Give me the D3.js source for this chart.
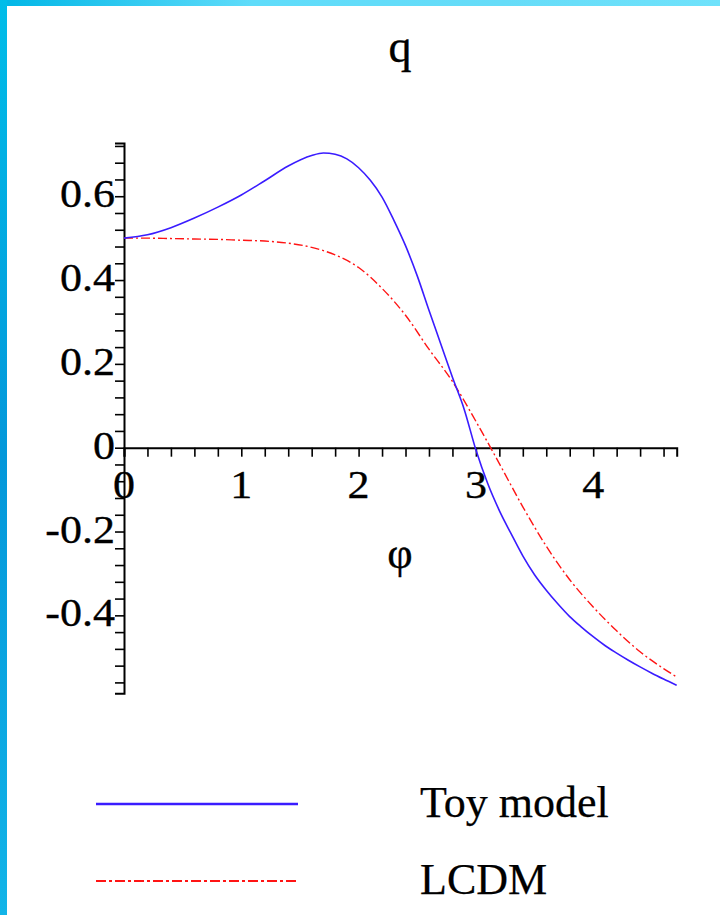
<!DOCTYPE html>
<html>
<head>
<meta charset="utf-8">
<script src="https://cdn.jsdelivr.net/npm/d3@7"></script>
<style>
  html, body { margin: 0; padding: 0; background: #fff; }
  svg { display: block; }
  text { font-family: "Liberation Serif", "Times New Roman", serif; fill: #000; }
</style>
</head>
<body>
<svg id="chart" width="720" height="915"></svg>
<script>
// values
const phiToy = [0, 0.2, 0.4, 0.6, 0.8, 1.0, 1.2, 1.4, 1.6, 1.7, 1.8, 1.9, 2.0, 2.1, 2.2, 2.3, 2.4, 2.5, 2.6, 2.7, 2.8, 2.9, 3.0, 3.1, 3.2, 3.3, 3.4, 3.5, 3.6, 3.7, 3.8, 3.9, 4.0, 4.1, 4.2, 4.3, 4.4, 4.5, 4.6, 4.712];
const qToy = [0.500, 0.508, 0.525, 0.548, 0.574, 0.603, 0.637, 0.672, 0.697, 0.703, 0.700, 0.689, 0.668, 0.638, 0.598, 0.543, 0.482, 0.410, 0.328, 0.248, 0.168, 0.092, -0.005, -0.085, -0.150, -0.205, -0.258, -0.303, -0.340, -0.373, -0.403, -0.428, -0.451, -0.472, -0.490, -0.507, -0.523, -0.538, -0.552, -0.567];

const phiLCDM = [0, 0.2, 0.4, 0.6, 0.8, 1.0, 1.2, 1.4, 1.6, 1.8, 2.0, 2.2, 2.4, 2.6, 2.8, 3.0, 3.2, 3.4, 3.6, 3.8, 4.0, 4.2, 4.4, 4.6, 4.712];
const qLCDM = [0.500, 0.500, 0.499, 0.498, 0.497, 0.495, 0.493, 0.488, 0.478, 0.460, 0.430, 0.380, 0.316, 0.235, 0.158, 0.063, -0.038, -0.141, -0.235, -0.315, -0.380, -0.437, -0.487, -0.527, -0.547];

const xMajorTicks = [0, 1, 2, 3, 4];
const yMajorTicks = [-0.4, -0.2, 0, 0.2, 0.4, 0.6];
const yTickLabels = ["-0.4", "-0.2", "0", "0.2", "0.4", "0.6"];
const xDomain = [0, 4.712];
const yDomain = [-0.586, 0.727];
const legendNames = ["Toy model", "LCDM"];
const seriesColors = ["#3a1cff", "#ff1414"];

const svg = d3.select("#chart");

// blue frame along the top and left edge
const defs = svg.append("defs");
const gTop = defs.append("linearGradient").attr("id", "frameTop");
gTop.append("stop").attr("offset", "0%").attr("stop-color", "#00b6e6");
gTop.append("stop").attr("offset", "35%").attr("stop-color", "#5fdcfa");
gTop.append("stop").attr("offset", "70%").attr("stop-color", "#66dcf8");
gTop.append("stop").attr("offset", "100%").attr("stop-color", "#6fe2fb");
const gLeft = defs.append("linearGradient").attr("id", "frameLeft")
  .attr("x1", 0).attr("x2", 0).attr("y1", 0).attr("y2", 1);
gLeft.append("stop").attr("offset", "0%").attr("stop-color", "#00bde9");
gLeft.append("stop").attr("offset", "50%").attr("stop-color", "#0397da");
gLeft.append("stop").attr("offset", "100%").attr("stop-color", "#12b4e8");
svg.append("rect").attr("x", 0).attr("y", 0).attr("width", 720).attr("height", 6).attr("fill", "url(#frameTop)");
svg.append("rect").attr("x", 0).attr("y", 0).attr("width", 7).attr("height", 915).attr("fill", "url(#frameLeft)");

const x = d3.scaleLinear().domain(xDomain).range([124, 676.7]);
const y = d3.scaleLinear().domain(yDomain).range([693.3, 143]);

// minor ticks
const xMinor = d3.range(0, 4.61, 0.2);
const yMinor = d3.range(-0.56, 0.721, 0.04);

const xAxisMinor = svg.append("g")
  .attr("transform", `translate(0,${y(0)})`)
  .call(d3.axisBottom(x).tickValues(xMinor).tickSize(9).tickSizeOuter(9).tickFormat(""));
const yAxisMinor = svg.append("g")
  .attr("transform", `translate(${x(0)},0)`)
  .call(d3.axisLeft(y).tickValues(yMinor).tickSize(9).tickSizeOuter(9).tickFormat(""));

[xAxisMinor, yAxisMinor].forEach((g) => {
  g.select(".domain").attr("stroke", "#000").attr("stroke-width", 2);
  g.selectAll(".tick line").attr("stroke", "#000").attr("stroke-width", 1.6);
});

// major tick labels
const labelStyle = (sel) => sel
  .attr("font-size", 40)
  .attr("stroke", "#000")
  .attr("stroke-width", 0.35);

svg.append("g").selectAll("text")
  .data(xMajorTicks)
  .join("text")
  .attr("transform", (d) => `translate(${x(d)},${y(0) + 50}) scale(1.1,1)`)
  .attr("text-anchor", "middle")
  .call(labelStyle)
  .text((d) => d);

svg.append("g").selectAll("text")
  .data(yMajorTicks)
  .join("text")
  .attr("transform", (d) => `translate(${x(0) - 9},${y(d) + 11}) scale(1.1,1)`)
  .attr("text-anchor", "end")
  .call(labelStyle)
  .text((d, i) => yTickLabels[i]);

// axis titles
svg.append("text").attr("x", 400).attr("y", 62).attr("text-anchor", "middle")
  .attr("font-size", 46).attr("stroke", "#000").attr("stroke-width", 0.35).text("q");
svg.append("text").attr("x", 400).attr("y", 568).attr("text-anchor", "middle")
  .attr("font-size", 44).attr("stroke", "#000").attr("stroke-width", 0.35).text("φ");

// curves
const line = d3.line()
  .curve(d3.curveMonotoneX)
  .x((d) => x(d[0]))
  .y((d) => y(d[1]));

const toyData = d3.zip(phiToy, qToy);
const lcdmData = d3.zip(phiLCDM, qLCDM);

svg.append("path")
  .datum(lcdmData)
  .attr("fill", "none")
  .attr("stroke", seriesColors[1])
  .attr("stroke-width", 1.4)
  .attr("stroke-dasharray", "9,3,2,3")
  .attr("d", line);

svg.append("path")
  .datum(toyData)
  .attr("fill", "none")
  .attr("stroke", seriesColors[0])
  .attr("stroke-width", 1.6)
  .attr("d", line);

// legend
const legend = svg.append("g");
const legendY = [804, 881];
legendNames.forEach((name, i) => {
  legend.append("line")
    .attr("x1", 96).attr("x2", 298)
    .attr("y1", legendY[i]).attr("y2", legendY[i])
    .attr("stroke", seriesColors[i])
    .attr("stroke-width", i === 0 ? 2.6 : 2)
    .attr("stroke-dasharray", i === 0 ? null : "10,3,3,3");
  legend.append("text")
    .attr("x", 420).attr("y", legendY[i] + 13)
    .attr("font-size", 44)
    .attr("stroke", "#000").attr("stroke-width", 0.25)
    .text(name);
});
</script>
</body>
</html>
